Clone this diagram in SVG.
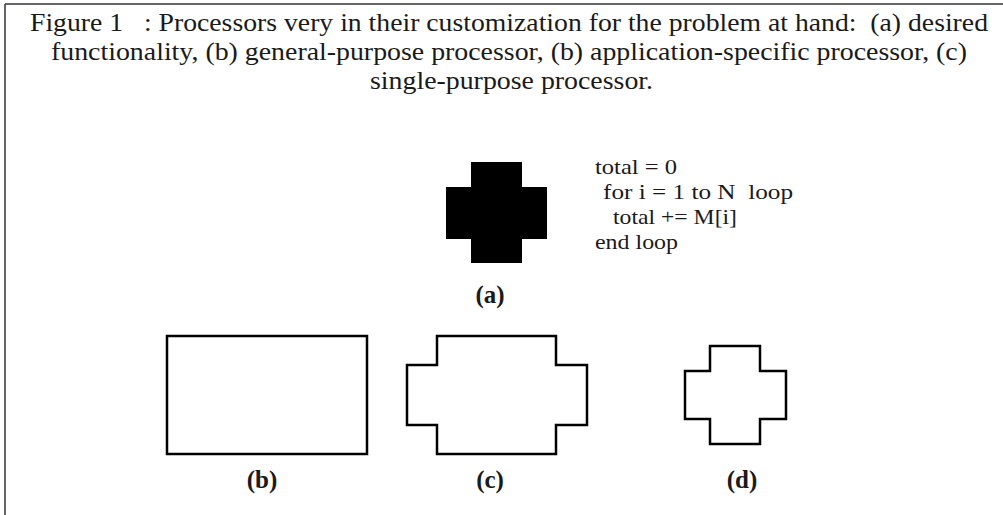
<svg xmlns="http://www.w3.org/2000/svg" width="1003" height="515" viewBox="0 0 1003 515">
  <style>
    .title { font-family: "Liberation Serif", "Times New Roman", serif; font-size: 26px; fill: #1a1a1a; white-space: pre; }
    .code { font-family: "Liberation Serif", "Times New Roman", serif; font-size: 21px; fill: #1a1a1a; white-space: pre; }
    .lbl { font-family: "Liberation Serif", "Times New Roman", serif; font-size: 25px; font-weight: bold; fill: #1a1a1a; text-anchor: middle; }
    .shape { fill: #ffffff; stroke: #000000; stroke-width: 2.5; stroke-linejoin: miter; }
    .frame { stroke: #333333; stroke-width: 1.5; fill: none; }
  </style>
  <rect x="0" y="0" width="1003" height="515" fill="#ffffff"/>
  <g id="frame">
    <line class="frame" x1="5" y1="4" x2="1003" y2="4"/>
    <line class="frame" x1="5" y1="4" x2="5" y2="515"/>
  </g>
  <g id="caption">
    <text class="title" x="30" y="31" textLength="958" lengthAdjust="spacingAndGlyphs">Figure 1   : Processors very in their customization for the problem at hand:  (a) desired</text>
    <text class="title" x="51" y="60" textLength="916" lengthAdjust="spacingAndGlyphs">functionality, (b) general-purpose processor, (b) application-specific processor, (c)</text>
    <text class="title" x="370" y="89" textLength="283" lengthAdjust="spacingAndGlyphs">single-purpose processor.</text>
  </g>
  <g id="node-a">
    <path d="M471,162 H522 V187 H547 V239 H522 V263 H471 V239 H446 V187 H471 Z" fill="#000000"/>
    <text class="lbl" x="490" y="303">(a)</text>
  </g>
  <g id="code">
    <text class="code" x="595" y="174" textLength="82" lengthAdjust="spacingAndGlyphs">total = 0</text>
    <text class="code" x="603" y="199" textLength="190" lengthAdjust="spacingAndGlyphs">for i = 1 to N  loop</text>
    <text class="code" x="613" y="224" textLength="124" lengthAdjust="spacingAndGlyphs">total += M[i]</text>
    <text class="code" x="595" y="249" textLength="83" lengthAdjust="spacingAndGlyphs">end loop</text>
  </g>
  <g id="node-b">
    <rect class="shape" x="167" y="336" width="200" height="118"/>
    <text class="lbl" x="262" y="488">(b)</text>
  </g>
  <g id="node-c">
    <path class="shape" d="M437,336 H556 V365 H587 V425 H556 V454 H437 V425 H407 V365 H437 Z"/>
    <text class="lbl" x="490" y="488">(c)</text>
  </g>
  <g id="node-d">
    <path class="shape" d="M710,346 H760 V371 H786 V419 H760 V444 H710 V419 H685 V371 H710 Z"/>
    <text class="lbl" x="742" y="488">(d)</text>
  </g>
  <g id="connectors"/>
</svg>
